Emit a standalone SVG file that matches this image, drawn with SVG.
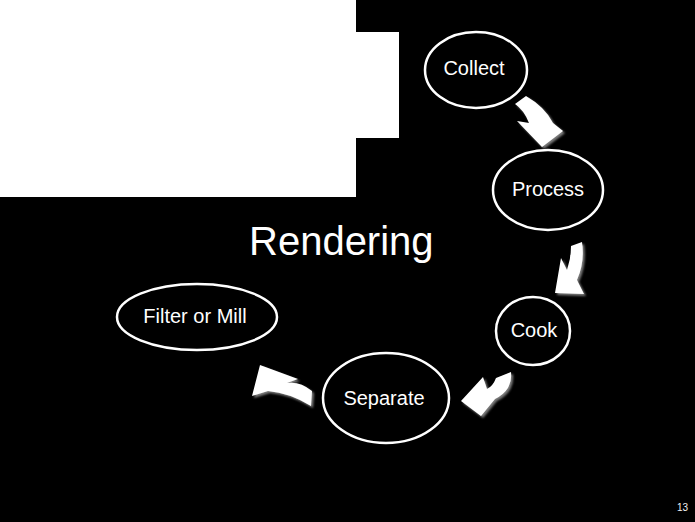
<svg xmlns="http://www.w3.org/2000/svg" width="695" height="522" viewBox="0 0 695 522">
<defs>
<style>
.node{fill:#000;stroke:#fff;stroke-width:2.5}
.lbl{font-family:"Liberation Sans",Arial,sans-serif;font-size:20px;fill:#fff;text-anchor:middle}
.arrow{fill:#fff;filter:url(#sh)}
</style>
<filter id="sh" x="-30%" y="-30%" width="160%" height="160%">
<feDropShadow dx="2" dy="2" stdDeviation="1.2" flood-color="#888" flood-opacity="0.9"/>
</filter>
</defs>
<rect x="0" y="0" width="695" height="522" fill="#000"/>
<g id="whitebox">
<rect x="0" y="0" width="356" height="197" fill="#fff"/>
<rect x="355" y="32" width="44" height="106" fill="#fff"/>
</g>
<text x="249" y="255" font-family="'Liberation Sans',Arial,sans-serif" font-size="40" fill="#fff">Rendering</text>
<g id="connectors">
<path class="arrow" d="M515,104 L526,96 Q545,107 553,123 L563,131 L542,147 L517,121 L529,123 Q524,110 515,104 Z"/>
<path class="arrow" d="M571,246 L582,242 Q585,262 577,280 L584,294 L555,293 L561,258 L567,270 Q571,258 571,246 Z"/>
<path class="arrow" d="M496,378 L511,372 Q513,390 495,399 L481,416 L461,401 L483,377 L487,389 Q493,386 496,378 Z"/>
<path class="arrow" d="M312,391 Q300,381 287,383 L298,379 L260,365 L252,396 L268,391 Q290,393 311,406 Z"/>
</g>
<g id="collect">
<ellipse class="node" cx="476" cy="70" rx="51" ry="38"/>
<text class="lbl" x="474" y="75">Collect</text>
</g>
<g id="process">
<ellipse class="node" cx="548" cy="190" rx="55" ry="40"/>
<text class="lbl" x="548" y="196">Process</text>
</g>
<g id="cook">
<ellipse class="node" cx="533" cy="331" rx="37" ry="34"/>
<text class="lbl" x="534" y="337">Cook</text>
</g>
<g id="separate">
<ellipse class="node" cx="386" cy="398" rx="63" ry="45"/>
<text class="lbl" x="384" y="405">Separate</text>
</g>
<g id="filter">
<ellipse class="node" cx="197" cy="317" rx="80" ry="33"/>
<text class="lbl" x="195" y="323">Filter or Mill</text>
</g>
<text x="688" y="511" font-family="'Liberation Sans',Arial,sans-serif" font-size="10" fill="#f2f2f2" text-anchor="end">13</text>
</svg>
